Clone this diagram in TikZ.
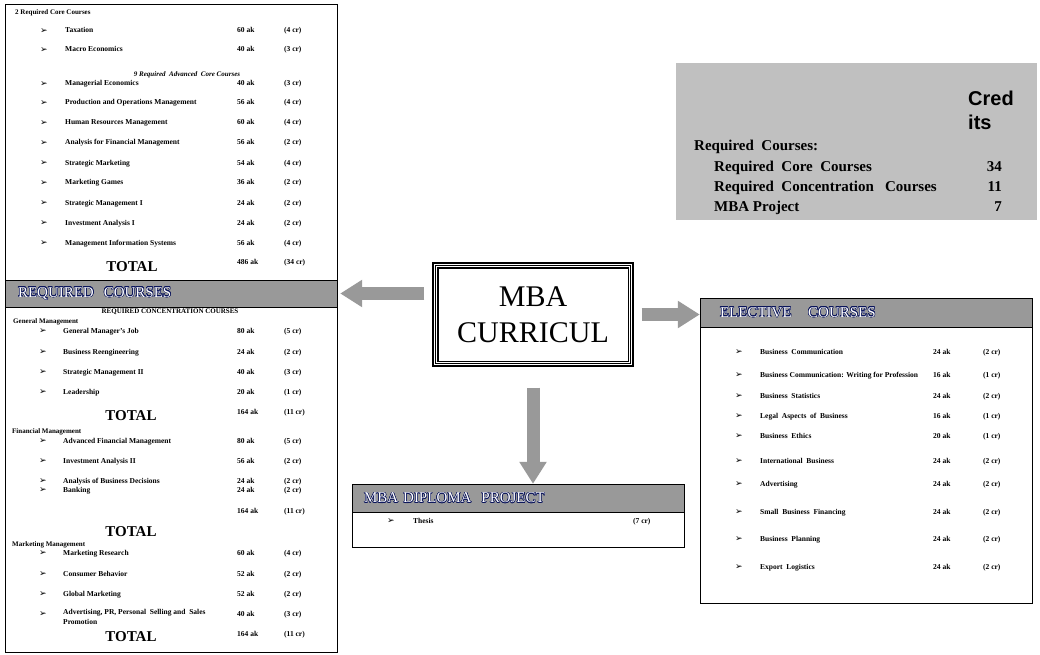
\documentclass[tikz,border=0pt]{standalone}
\usepackage{fontspec}
\setmainfont{Liberation Serif}
\setsansfont{Liberation Sans}
\newfontfamily\symfont{DejaVu Sans}
\usepackage{contour}
\contourlength{0.45pt}
\usepackage{tikz}
\usetikzlibrary{arrows.meta}
\definecolor{bannergray}{RGB}{153,153,153}
\definecolor{creditgray}{RGB}{192,192,192}
\definecolor{outlineblue}{RGB}{10,20,90}
\newcommand{\arrowbullet}{{\symfont\fontsize{9}{10}\selectfont ➢}}

\begin{document}
\begin{tikzpicture}[x=1pt, y=-1pt,
			box/.style={draw, rectangle, minimum width=332pt, inner sep=0pt},
			banner/.style={draw, rectangle, fill=bannergray, minimum width=332pt, inner xsep=13pt, text width=306pt, align=left, text=white, font=\fontsize{15}{18}\selectfont},
			course/.style={anchor=west, inner sep=0pt, text height=5.5pt, text depth=1.5pt, font=\fontsize{7.5}{10}\selectfont\bfseries},
			bullet/.style={anchor=west, inner sep=0pt},
			group/.style={anchor=west, inner sep=0pt, font=\fontsize{7}{8}\selectfont\bfseries},
			total/.style={inner sep=0pt, font=\fontsize{15}{18}\selectfont\bfseries},
			summary/.style={anchor=west, inner sep=0pt, text height=10pt, text depth=3pt, font=\fontsize{15}{18}\selectfont\bfseries},
			bigarrow/.style={draw=bannergray, line width=13pt, -{Triangle[length=22pt, width=26pt]}}]
			\useasboundingbox (0,0) rectangle (1040,655);
			
			% required courses
			\node[box, minimum height=276pt](corebox) at (171,142) {};
			\node[box, minimum height=345pt](concbox) at (171,479.5) {};
			\node[banner, minimum height=27pt](reqbanner) at (171,293.5) {\contour{outlineblue}{REQUIRED\ \ COURSES}};
			
			\node[group](coretitle) at (15,13) {2 Required Core Courses};
			\node[group, anchor=center, font=\fontsize{7}{8}\selectfont\bfseries\itshape](advtitle) at (187,75) {9 Required\ \ Advanced\ \ Core Courses};
			\foreach \y/\course/\hrs/\crd [count=\i] in {31/Taxation/60/4, 50/Macro Economics/40/3, 84/Managerial Economics/40/3, 103/Production and Operations Management/56/4, 123/Human Resources Management/60/4, 143/Analysis for Financial Management/56/2, 163/Strategic Marketing/54/4, 183/Marketing Games/36/2, 203/Strategic Management I/24/2, 223/Investment Analysis I/24/2, 243/Management Information Systems/56/4}{
				\node[bullet](coreb\i) at (40,\y) {\arrowbullet};
				\node[course](corename\i) at (65,\y) {\course};
				\node[course](corehrs\i) at (237,\y) {\hrs{} ak};
				\node[course](corecr\i) at (284,\y) {(\crd{} cr)};
			}
			\node[total](coretotal) at (132,267) {TOTAL};
			\node[course](corehrs) at (237,262) {486 ak};
			\node[course](corecr) at (284,262) {(34 cr)};
			
			\node[group, anchor=center](conctitle) at (170,312) {REQUIRED CONCENTRATION COURSES};
			\node[group](genmgmt) at (13,322) {General Management};
			\foreach \y/\course/\hrs/\crd [count=\i] in {331/General Manager's Job/80/5, 352/Business Reengineering/24/2, 372/Strategic Management II/40/3, 392/Leadership/20/1}{
				\node[bullet](genb\i) at (39,\y) {\arrowbullet};
				\node[course](genname\i) at (63,\y) {\course};
				\node[course](genhrs\i) at (237,\y) {\hrs{} ak};
				\node[course](gencr\i) at (284,\y) {(\crd{} cr)};
			}
			\node[total](gentotal) at (131,416) {TOTAL};
			\node[course](genhrs) at (237,412) {164 ak};
			\node[course](gencr) at (284,412) {(11 cr)};
			
			\node[group](finmgmt) at (12,432) {Financial Management};
			\foreach \y/\course/\hrs/\crd [count=\i] in {441/Advanced Financial Management/80/5, 461/Investment Analysis II/56/2, 481/Analysis of Business Decisions/24/2, 490/Banking/24/2}{
				\node[bullet](finb\i) at (39,\y) {\arrowbullet};
				\node[course](finname\i) at (63,\y) {\course};
				\node[course](finhrs\i) at (237,\y) {\hrs{} ak};
				\node[course](fincr\i) at (284,\y) {(\crd{} cr)};
			}
			\node[course](finhrs) at (237,511) {164 ak};
			\node[course](fincr) at (284,511) {(11 cr)};
			\node[total](fintotal) at (131,532) {TOTAL};
			
			\node[group](mktmgmt) at (12,545) {Marketing Management};
			\foreach \y/\course/\hrs/\crd [count=\i] in {553/Marketing Research/60/4, 574/Consumer Behavior/52/2, 594/Global Marketing/52/2}{
				\node[bullet](mktb\i) at (39,\y) {\arrowbullet};
				\node[course](mktname\i) at (63,\y) {\course};
				\node[course](mkthrs\i) at (237,\y) {\hrs{} ak};
				\node[course](mktcr\i) at (284,\y) {(\crd{} cr)};
			}
			\node[bullet](mktb4) at (39,614) {\arrowbullet};
			\node[course, anchor=north west, align=left, text height=, text depth=](mktname4) at (63,609.5) {Advertising, PR, Personal\ \ Selling and\ \ Sales\\Promotion};
			\node[course](mkthrs4) at (237,614) {40 ak};
			\node[course](mktcr4) at (284,614) {(3 cr)};
			\node[total](mkttotal) at (131,637) {TOTAL};
			\node[course](mkthrs) at (237,634) {164 ak};
			\node[course](mktcr) at (284,634) {(11 cr)};
			
			% centre
			\node[draw, line width=1.2pt, minimum width=200pt, minimum height=103pt, align=center, font=\fontsize{30}{36}\selectfont](mba) at (533,314.5) {MBA\\CURRICUL};
			\draw[line width=0.5pt] ([shift={(3pt,3pt)}]mba.south west) rectangle ([shift={(-3pt,-3pt)}]mba.north east);
			\draw[line width=1.2pt] ([shift={(5.5pt,5.5pt)}]mba.south west) rectangle ([shift={(-5.5pt,-5.5pt)}]mba.north east);
			
			% elective courses
			\node[box, minimum height=305pt](electbox) at (866,450.5) {};
			\node[banner, minimum height=29pt, inner xsep=20pt, text width=292pt](elective) at (866,312.5) {\contour{outlineblue}{ELECTIVE\hspace{1.1em}COURSES}};
			\foreach \y/\course/\hrs/\crd [count=\i] in {352/Business\ \ Communication/24/2, 375/Business Communication: Writing for Profession/16/1, 396/Business\ \ Statistics/24/2, 416/Legal\ \ Aspects\ \ of\ \ Business/16/1, 436/Business\ \ Ethics/20/1, 461/International\ \ Business/24/2, 484/Advertising/24/2, 512/Small\ \ Business\ \ Financing/24/2, 539/Business\ \ Planning/24/2, 567/Export\ \ Logistics/24/2}{
				\node[bullet](electb\i) at (735,\y) {\arrowbullet};
				\node[course](electname\i) at (760,\y) {\course};
				\node[course](electhrs\i) at (933,\y) {\hrs{} ak};
				\node[course](electcr\i) at (983,\y) {(\crd{} cr)};
			}
			
			% diploma project
			\node[box, minimum height=63pt](diplbox) at (518,515.5) {};
			\node[banner, minimum height=28pt, inner xsep=12pt, text width=308pt](diploma) at (518,498) {\contour{outlineblue}{MBA DIPLOMA\ \ PROJECT}};
			\node[bullet](diplb) at (387,521) {\arrowbullet};
			\node[course](thesis) at (413,521) {Thesis};
			\node[course](thesiscr) at (633,521) {(7 cr)};
			
			% credits summary
			\node[fill=creditgray, minimum width=361pt, minimum height=157pt, inner sep=0pt](credits) at (856.5,141.5) {};
			\node[anchor=west, align=left, inner sep=0pt, font=\fontsize{20}{24}\sffamily\bfseries](credhead) at (968,110) {Cred\\its};
			\node[summary](reqcourses) at (694,147) {Required\ \ Courses:};
			\node[summary](reqcore) at (714,168) {Required\ \ Core\ \ Courses};
			\node[summary](reqconc) at (714,188) {Required\ \ Concentration\ \ \ Courses};
			\node[summary](mbaproj) at (714,208) {MBA\ Project};
			\node[summary, anchor=east](corenum) at (1002,168) {34};
			\node[summary, anchor=east](concnum) at (1002,188) {11};
			\node[summary, anchor=east](projnum) at (1002,208) {7};
			
			% arrows
			\draw[bigarrow, shorten <=8pt, shorten >=3pt] (mba.west |- reqbanner.east) -- (reqbanner.east);
			\draw[bigarrow, shorten <=8pt] (mba.east) -- (elective.west |- mba.east);
			\draw[bigarrow, shorten <=21pt] (mba.south) -- (diploma.north -| mba.south);
			\end{tikzpicture}
\end{document}
